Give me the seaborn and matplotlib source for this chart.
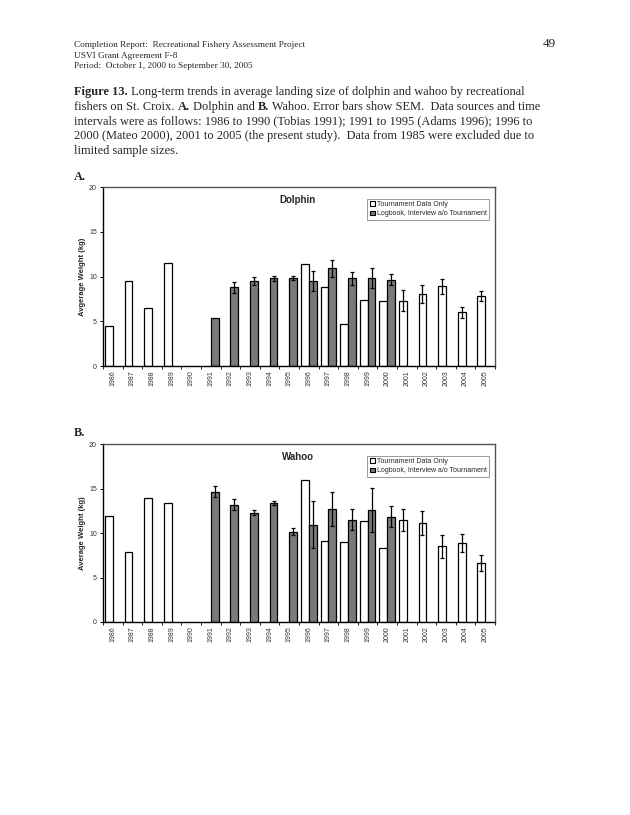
import numpy as np
import pandas as pd
import matplotlib
matplotlib.use("Agg")
import matplotlib.pyplot as plt
from matplotlib.patches import Patch
import seaborn as sns

nan = np.nan

# ---------------- data ----------------
years = ["1986", "1987", "1988", "1989", "1990", "1991", "1992", "1993", "1994", "1995",
         "1996", "1997", "1998", "1999", "2000", "2001", "2002", "2003", "2004", "2005"]
series_labels = ["Tournament Data Only", "Logbook, Interview a/o Tournament"]

dolphin_tourn = [4.5, 9.5, 6.5, 11.5, nan, nan, nan, nan, nan, nan,
                 11.4, 8.8, 4.7, 7.4, 7.3, 7.3, 8.0, 8.9, 6.0, 7.8]
dolphin_tourn_sem = [nan, nan, nan, nan, nan, nan, nan, nan, nan, nan,
                     nan, nan, nan, nan, nan, 1.2, 1.0, 0.85, 0.6, 0.55]
dolphin_log = [nan, nan, nan, nan, nan, 5.4, 8.8, 9.5, 9.8, 9.85,
               9.5, 10.9, 9.8, 9.85, 9.65, nan, nan, nan, nan, nan]
dolphin_log_sem = [nan, nan, nan, nan, nan, nan, 0.6, 0.5, 0.25, 0.2,
                   1.15, 0.9, 0.75, 1.1, 0.6, nan, nan, nan, nan, nan]

wahoo_tourn = [11.9, 7.85, 13.9, 13.4, nan, nan, nan, nan, nan, nan,
               15.9, 9.15, 8.95, 11.3, 8.3, 11.45, 11.1, 8.5, 8.9, 6.65]
wahoo_tourn_sem = [nan, nan, nan, nan, nan, nan, nan, nan, nan, nan,
                   nan, nan, nan, nan, nan, 1.2, 1.35, 1.3, 1.0, 0.9]
wahoo_log = [nan, nan, nan, nan, nan, 14.65, 13.2, 12.3, 13.35, 10.15,
             10.95, 12.7, 11.5, 12.6, 11.85, nan, nan, nan, nan, nan]
wahoo_log_sem = [nan, nan, nan, nan, nan, 0.6, 0.6, 0.3, 0.25, 0.4,
                 2.6, 1.9, 1.15, 2.45, 1.2, nan, nan, nan, nan, nan]

# ---------------- figure ----------------
sns.set_theme(style="white")
plt.rcParams["font.family"] = ["Liberation Sans", "DejaVu Sans"]

W, H = 630, 815
fig = plt.figure(figsize=(W / 100, H / 100), dpi=100)
fig.patch.set_facecolor("white")

SERIF = ["Liberation Serif", "DejaVu Serif"]
renderer = fig.canvas.get_renderer()


def text_width(s, size, weight):
    t1 = fig.text(0, 0, "x" + s + "x", fontsize=size, weight=weight, family=SERIF)
    t2 = fig.text(0, 0, "xx", fontsize=size, weight=weight, family=SERIF)
    w = t1.get_window_extent(renderer).width - t2.get_window_extent(renderer).width
    t1.remove()
    t2.remove()
    return w


def rich_line(x, y, segs, size):
    """x, y in pixels from top-left; y is baseline."""
    for s, w in segs:
        fig.text(x / W, 1 - y / H, s, fontsize=size, weight=w, family=SERIF,
                 va="baseline", ha="left")
        x += text_width(s, size, w)


# header
hs = 6.7
rich_line(74, 47, [("Completion Report:  Recreational Fishery Assessment Project", "normal")], hs)
rich_line(74, 57.5, [("USVI Grant Agreement F-8", "normal")], hs)
rich_line(74, 68, [("Period:  October 1, 2000 to September 30, 2005", "normal")], hs)
rich_line(543, 47, [("49", "normal")], 9.5)

cs = 8.9
cap_y0, cap_dy = 95, 14.8
caption = [
    [("Figure 13.", "bold"), (" Long-term trends in average landing size of dolphin and wahoo by recreational", "normal")],
    [("fishers on St. Croix. ", "normal"), ("A.", "bold"), (" Dolphin and ", "normal"), ("B.", "bold"),
     (" Wahoo. Error bars show SEM.  Data sources and time", "normal")],
    [("intervals were as follows: 1986 to 1990 (Tobias 1991); 1991 to 1995 (Adams 1996); 1996 to", "normal")],
    [("2000 (Mateo 2000), 2001 to 2005 (the present study).  Data from 1985 were excluded due to", "normal")],
    [("limited sample sizes.", "normal")],
]
for i, segs in enumerate(caption):
    rich_line(74, cap_y0 + i * cap_dy, segs, cs)

rich_line(74, 180, [("A.", "bold")], cs)
rich_line(74, 436, [("B.", "bold")], cs)

GREY = "#7a7a7a"


def draw_panel(rect, tourn, tourn_sem, log, log_sem, title, ylabel):
    ax = fig.add_axes(rect)
    df = pd.DataFrame({
        "Year": years + years,
        "Weight": list(tourn) + list(log),
        "Source": [series_labels[0]] * len(years) + [series_labels[1]] * len(years),
    })
    sns.barplot(data=df, x="Year", y="Weight", hue="Source", order=years,
                hue_order=series_labels, palette=["white", GREY], saturation=1,
                edgecolor="black", linewidth=0.9, errorbar=None, width=0.8,
                ax=ax, legend=False)
    errs = [tourn_sem, log_sem]
    for p in ax.patches:
        h = p.get_height()
        if not np.isfinite(h):
            continue
        xc = p.get_x() + p.get_width() / 2
        i = int(round(xc))
        k = 0 if xc < i else 1
        e = errs[k][i]
        if np.isfinite(e):
            ax.errorbar(xc, h, yerr=e, fmt="none", ecolor="black",
                        elinewidth=0.9, capsize=1.6, capthick=0.9, zorder=5)

    ax.set_xlim(-0.5, len(years) - 0.5)
    ax.set_ylim(0, 20)
    ax.set_yticks([0, 5, 10, 15, 20])
    ax.tick_params(axis="y", labelsize=5, length=2.5, width=0.7, pad=2,
                   colors="black", labelcolor="#333333", left=True, direction="out")
    ax.set_xticks(range(len(years)))
    ax.set_xticklabels(years, rotation=90, fontsize=5, color="#333333")
    ax.tick_params(axis="x", length=0, pad=3)
    ax.set_xticks(np.arange(len(years) + 1) - 0.5, minor=True)
    ax.tick_params(axis="x", which="minor", length=2.5, width=0.7, bottom=True, direction="out")
    ax.set_xlabel("")
    ax.set_ylabel(ylabel, fontsize=5.5, weight="bold", labelpad=2)

    for s in ["left", "bottom"]:
        ax.spines[s].set_color("black")
        ax.spines[s].set_linewidth(1.0)
    for s in ["top", "right"]:
        ax.spines[s].set_color("#555555")
        ax.spines[s].set_linewidth(1.0)
    ax.grid(False)

    ax.text(0.497, 0.955, title, transform=ax.transAxes, ha="center", va="top",
            fontsize=7, weight="bold")
    handles = [Patch(facecolor="white", edgecolor="black", linewidth=0.8),
               Patch(facecolor=GREY, edgecolor="black", linewidth=0.8)]
    leg = ax.legend(handles, series_labels, loc="upper right",
                    bbox_to_anchor=(0.985, 0.935), fontsize=5, frameon=True,
                    fancybox=False, framealpha=1, edgecolor="#999999",
                    handlelength=0.7, handleheight=0.7, handletextpad=0.3,
                    borderpad=0.35, labelspacing=0.35, borderaxespad=0)
    leg.get_frame().set_linewidth(0.7)
    return ax


draw_panel([103 / W, 1 - 366 / H, 392 / W, 179 / H],
           dolphin_tourn, dolphin_tourn_sem, dolphin_log, dolphin_log_sem,
           "Dolphin", "Avgerage Weight (kg)")
draw_panel([103 / W, 1 - 622 / H, 392 / W, 178 / H],
           wahoo_tourn, wahoo_tourn_sem, wahoo_log, wahoo_log_sem,
           "Wahoo", "Average Weight (kg)")

fig.savefig("out.png", dpi=100, facecolor="white")
